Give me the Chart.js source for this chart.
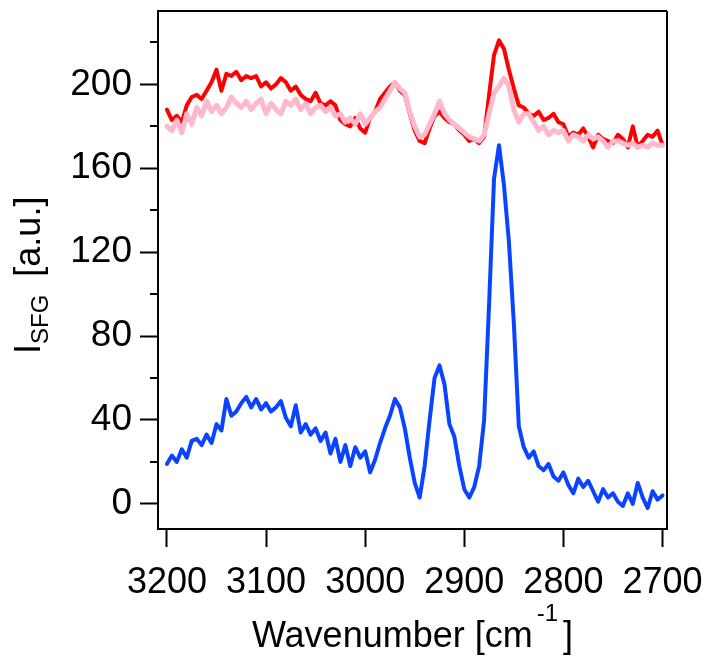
<!DOCTYPE html>
<html>
<head>
<meta charset="utf-8">
<script src="https://cdn.jsdelivr.net/npm/chart.js@4.4.1/dist/chart.umd.min.js"></script>
<style>
  html, body { margin: 0; padding: 0; background: #fff; }
  canvas { display: block; }
</style>
</head>
<body>
<canvas id="sfg-chart" width="707" height="656"></canvas>
<script>
// wavenumber grid, 3200 -> 2700 cm-1 in 5 cm-1 steps
const wavenumbers = [];
for (let w = 3200; w >= 2700; w -= 5) wavenumbers.push(w);

const redSignal = [
  188, 183, 185, 182, 190, 194, 195, 193, 197, 201,
  207, 197, 205, 204, 206, 202, 204, 203, 204, 199,
  201, 198, 200, 203, 201, 197, 199, 195, 193, 192,
  196, 191, 190, 192, 190, 183, 181, 180, 184, 179,
  177, 184, 187, 193, 196, 199, 201, 197, 195, 186,
  178, 173, 172, 179, 185, 187, 184, 182, 181, 178,
  176, 173, 174, 172, 175, 195, 214, 221, 217, 207,
  198, 190, 189, 186, 185, 187, 183, 184, 186, 182,
  181, 175, 177, 176, 179, 175, 170, 176, 174, 173,
  172, 176, 174, 170, 180, 170, 173, 176, 175, 178,
  171
];

const pinkSignal = [
  180, 178, 183, 177, 186, 181, 189, 185, 192, 187,
  190, 186, 189, 194, 191, 189, 192, 188, 191, 193,
  186, 191, 188, 186, 192, 190, 193, 188, 191, 186,
  189, 190, 187, 189, 185, 186, 182, 184, 181, 186,
  181, 184, 187, 189, 193, 197, 201, 198, 196, 187,
  180, 175, 176, 181, 186, 192, 186, 183, 181, 179,
  177, 175, 174, 173, 176, 186, 196, 199, 203, 199,
  188, 182, 186, 186, 182, 178, 180, 176, 178, 177,
  178, 173, 176, 175, 173, 176, 174, 175, 173, 170,
  173, 173, 172, 171, 172, 170, 171, 170, 172, 171,
  171
];

const blueSignal = [
  19, 23, 20, 26, 22, 30, 31, 28, 33, 29,
  38, 35, 50, 42, 44, 48, 51, 46, 50, 45,
  48, 44, 46, 49, 41, 37, 47, 34, 38, 33,
  36, 30, 34, 24, 31, 20, 28, 18, 27, 22,
  25, 15, 21, 29, 36, 42, 50, 46, 36, 22,
  10, 3, 18, 40, 60, 66, 57, 38, 32, 18,
  7, 3, 8, 18, 40, 95, 155, 171, 152, 125,
  86, 37, 27, 22, 25, 18, 16, 19, 13, 11,
  15, 9, 5, 12, 8, 11, 6, 1, 7, 3,
  5, 1, -1, 5, 0, 10, 3, -2, 6, 2,
  4
];

const xTicks = [3200, 3100, 3000, 2900, 2800, 2700];
const yTicks = [0, 40, 80, 120, 160, 200];
const yMinorTicks = [20, 60, 100, 140, 180, 220];

const toPoints = vals => vals.map((v, i) => ({ x: wavenumbers[i], y: v }));

const FONT = "'Liberation Sans', Arial, sans-serif";

// closed frame, minor y ticks and the two axis titles
const framePlugin = {
  id: 'frame',
  afterDraw(chart) {
    const ctx = chart.ctx;
    const area = chart.chartArea;
    const y = chart.scales.y;

    ctx.save();
    ctx.strokeStyle = '#000';
    ctx.lineWidth = 2;
    ctx.beginPath();
    ctx.moveTo(area.left, area.top);
    ctx.lineTo(area.right, area.top);
    ctx.moveTo(area.right, area.top);
    ctx.lineTo(area.right, area.bottom);
    ctx.stroke();

    ctx.beginPath();
    yMinorTicks.forEach(v => {
      const py = Math.round(y.getPixelForValue(v));
      ctx.moveTo(area.left - 8, py);
      ctx.lineTo(area.left, py);
    });
    ctx.stroke();

    ctx.fillStyle = '#000';
    ctx.textBaseline = 'alphabetic';

    // x title with superscript
    const big = '36px ' + FONT;
    const small = '24px ' + FONT;
    ctx.font = big;
    const partA = 'Wavenumber [cm';
    const wA = ctx.measureText(partA).width;
    const wB = ctx.measureText(']').width;
    ctx.font = small;
    const wSup = ctx.measureText('-1').width;
    const total = wA + 4 + wSup + 5 + wB;
    let tx = (area.left + area.right) / 2 - total / 2;
    const base = 647;
    ctx.font = big;
    ctx.fillText(partA, tx, base);
    ctx.font = small;
    ctx.fillText('-1', tx + wA + 4, base - 26);
    ctx.font = big;
    ctx.fillText(']', tx + wA + 4 + wSup + 5, base);

    // y title with subscript, rotated
    ctx.save();
    ctx.translate(40, 354);
    ctx.rotate(-Math.PI / 2);
    ctx.font = big;
    ctx.fillText('I', 0, 0);
    const wI = ctx.measureText('I').width;
    ctx.font = '24px ' + FONT;
    ctx.fillText('SFG', wI, 8);
    const wS = ctx.measureText('SFG').width;
    ctx.font = big;
    ctx.fillText(' [a.u.]', wI + wS + 8, 0);
    ctx.restore();

    ctx.restore();
  }
};

new Chart(document.getElementById('sfg-chart'), {
  type: 'line',
  data: {
    datasets: [
      {
        label: 'pink',
        data: toPoints(pinkSignal),
        borderColor: '#ffb8cc',
        borderWidth: 5,
        order: 0
      },
      {
        label: 'red',
        data: toPoints(redSignal),
        borderColor: '#ff0000',
        borderWidth: 4,
        order: 1
      },
      {
        label: 'blue',
        data: toPoints(blueSignal),
        borderColor: '#0a44ff',
        borderWidth: 4,
        order: 2
      }
    ]
  },
  options: {
    responsive: false,
    animation: false,
    devicePixelRatio: 1,
    layout: { padding: { top: 11, right: 40, left: 0, bottom: 0 } },
    elements: {
      point: { radius: 0 },
      line: { tension: 0, borderJoinStyle: 'round', borderCapStyle: 'round' }
    },
    plugins: {
      legend: { display: false },
      tooltip: { enabled: false }
    },
    scales: {
      x: {
        type: 'linear',
        reverse: true,
        min: 2695.5,
        max: 3209,
        afterBuildTicks: s => { s.ticks = xTicks.map(v => ({ value: v })); },
        afterFit: s => {
          s.height = 127;
          s.paddingLeft = 0;
          s.paddingRight = 0;
        },
        grid: {
          drawOnChartArea: false,
          tickLength: 18,
          tickWidth: 2,
          tickColor: '#000'
        },
        border: { display: true, color: '#000', width: 2 },
        ticks: {
          color: '#000',
          padding: 14,
          maxRotation: 0,
          autoSkip: false,
          callback: v => String(v),
          font: { family: FONT, size: 36 }
        }
      },
      y: {
        type: 'linear',
        min: -12,
        max: 235,
        afterBuildTicks: s => { s.ticks = yTicks.map(v => ({ value: v })); },
        afterFit: s => {
          s.width = 158;
          s.paddingTop = 0;
          s.paddingBottom = 0;
        },
        grid: {
          drawOnChartArea: false,
          tickLength: 18,
          tickWidth: 2,
          tickColor: '#000'
        },
        border: { display: true, color: '#000', width: 2 },
        ticks: {
          color: '#000',
          padding: 8,
          callback: v => String(v),
          font: { family: FONT, size: 37 }
        }
      }
    }
  },
  plugins: [framePlugin]
});
</script>
</body>
</html>
